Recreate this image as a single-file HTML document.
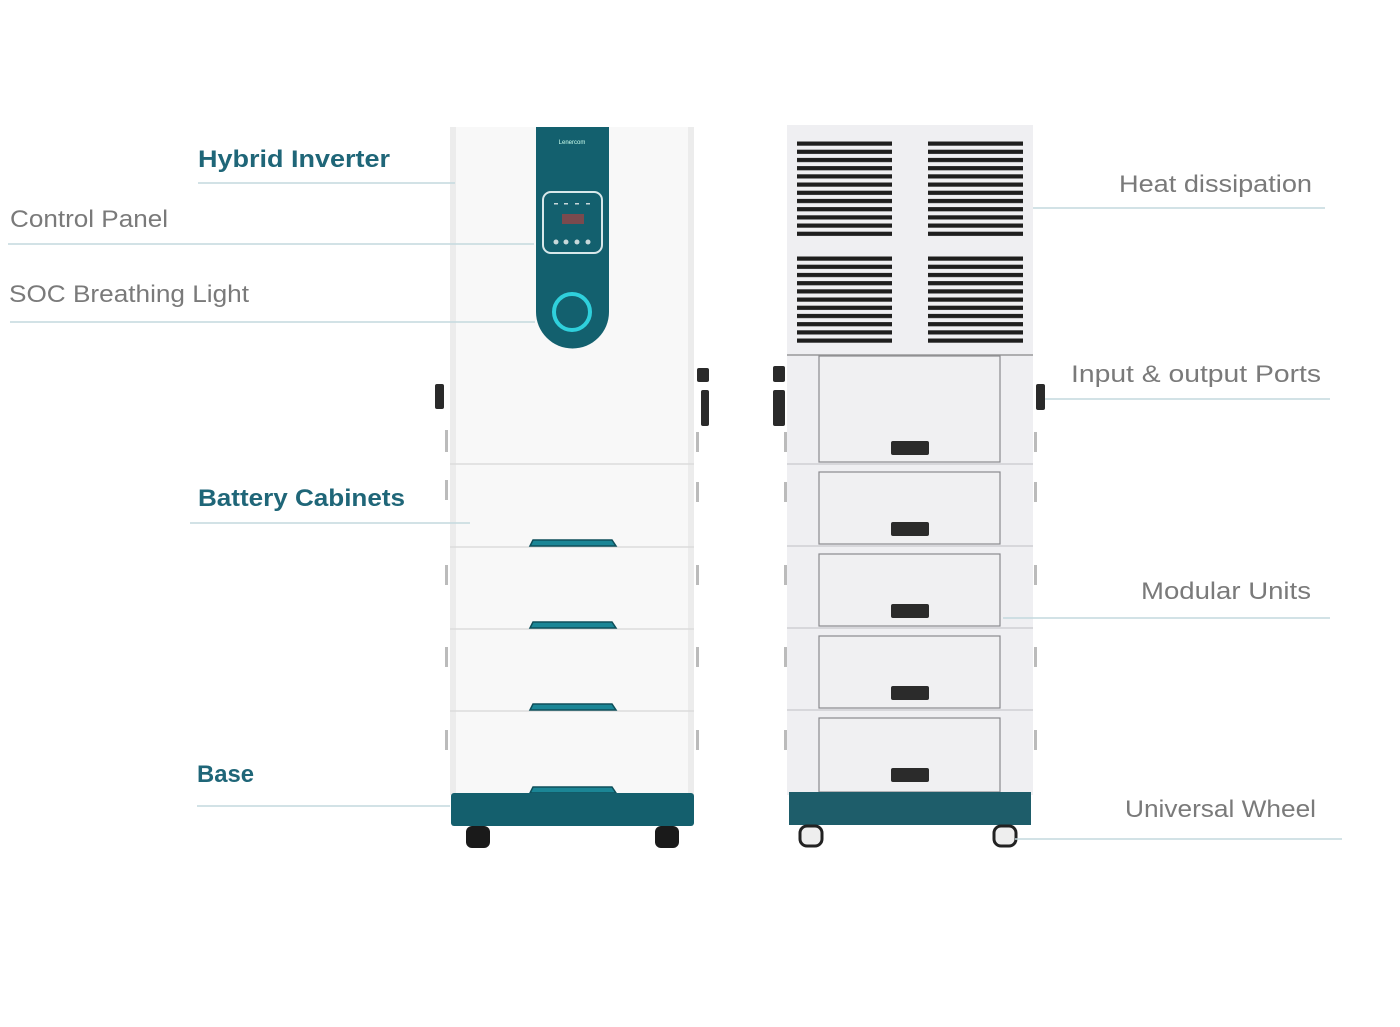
<!DOCTYPE html>
<html><head><meta charset="utf-8"><style>
html,body{margin:0;padding:0;background:#fff;}
svg{display:block}
.b{font-family:"Liberation Sans",sans-serif;font-weight:bold;fill:#1f6678;font-size:24px}
.n{font-family:"Liberation Sans",sans-serif;fill:#7a7a7a;font-size:24px}
.l{stroke:#c4d9de;stroke-width:1.5}
</style></head><body>
<svg width="1400" height="1027" viewBox="0 0 1400 1027" xmlns="http://www.w3.org/2000/svg">
<defs>
<pattern id="v1" x="0" y="141" width="10" height="8.2" patternUnits="userSpaceOnUse"><rect x="0" y="0.5" width="10" height="4.2" fill="#1e1e1e"/></pattern>
<pattern id="v2" x="0" y="256" width="10" height="8.2" patternUnits="userSpaceOnUse"><rect x="0" y="0.5" width="10" height="4.2" fill="#1e1e1e"/></pattern>
</defs>
<!-- LEFT UNIT -->
<rect x="450" y="127" width="244" height="668" fill="#f8f8f8"/>
<rect x="450" y="127" width="6" height="668" fill="#ececec"/>
<rect x="688" y="127" width="6" height="668" fill="#ececec"/>
<g stroke="#dcdcdc" stroke-width="1.5">
<line x1="450" y1="464" x2="694" y2="464"/><line x1="450" y1="547" x2="694" y2="547"/>
<line x1="450" y1="629" x2="694" y2="629"/><line x1="450" y1="711" x2="694" y2="711"/>
</g>
<path d="M536 127 H609 V312 A36.5 36.5 0 0 1 536 312 Z" fill="#13606e"/>
<text x="572" y="144" font-family="Liberation Sans" font-size="6" fill="#cfe" text-anchor="middle">Lenercom</text>
<rect x="543" y="192" width="59" height="61" rx="8" fill="none" stroke="#d8e8ea" stroke-width="2"/>
<rect x="562" y="214" width="22" height="10" fill="#7a4a4e"/>
<g fill="#c8d8da"><circle cx="556" cy="242" r="2.5"/><circle cx="566" cy="242" r="2.5"/><circle cx="577" cy="242" r="2.5"/><circle cx="588" cy="242" r="2.5"/>
<rect x="554" y="203" width="4" height="1.5"/><rect x="564" y="203" width="4" height="1.5"/><rect x="575" y="203" width="4" height="1.5"/><rect x="586" y="203" width="4" height="1.5"/></g>
<circle cx="572" cy="312" r="18" fill="none" stroke="#2fd0dc" stroke-width="4"/>
<g fill="#1b8696" stroke="#0f4f5a" stroke-width="1.5">
<path d="M530 546 L533 540 H612 L616 546 Z"/><path d="M530 628 L533 622 H612 L616 628 Z"/>
<path d="M530 710 L533 704 H612 L616 710 Z"/><path d="M530 793 L533 787 H612 L616 793 Z"/>
</g>
<rect x="451" y="793" width="243" height="33" rx="3" fill="#145f6d"/>
<rect x="466" y="826" width="24" height="22" rx="6" fill="#1a1a1a"/>
<rect x="655" y="826" width="24" height="22" rx="6" fill="#1a1a1a"/>
<g fill="#2a2a2a"><rect x="435" y="384" width="9" height="25" rx="2"/><rect x="697" y="368" width="12" height="14" rx="2"/><rect x="701" y="390" width="8" height="36" rx="2"/></g>
<g fill="#bbb"><rect x="445" y="430" width="3" height="22"/><rect x="445" y="480" width="3" height="20"/><rect x="445" y="565" width="3" height="20"/><rect x="445" y="647" width="3" height="20"/><rect x="445" y="730" width="3" height="20"/>
<rect x="696" y="432" width="3" height="20"/><rect x="696" y="482" width="3" height="20"/><rect x="696" y="565" width="3" height="20"/><rect x="696" y="647" width="3" height="20"/><rect x="696" y="730" width="3" height="20"/></g>
<!-- RIGHT UNIT -->
<rect x="787" y="125" width="246" height="670" fill="#efeff2"/>
<rect x="797" y="141" width="95" height="97" fill="url(#v1)"/>
<rect x="928" y="141" width="95" height="97" fill="url(#v1)"/>
<rect x="797" y="256" width="95" height="89" fill="url(#v2)"/>
<rect x="928" y="256" width="95" height="89" fill="url(#v2)"/>
<line x1="787" y1="355" x2="1033" y2="355" stroke="#999" stroke-width="1.5"/>
<g stroke="#cfcfd3" stroke-width="1.5"><line x1="787" y1="464" x2="1033" y2="464"/><line x1="787" y1="546" x2="1033" y2="546"/><line x1="787" y1="628" x2="1033" y2="628"/><line x1="787" y1="710" x2="1033" y2="710"/></g>
<g fill="#f0f0f2" stroke="#8a8a8e" stroke-width="1.2">
<rect x="819" y="356" width="181" height="106"/><rect x="819" y="472" width="181" height="72"/>
<rect x="819" y="554" width="181" height="72"/><rect x="819" y="636" width="181" height="72"/><rect x="819" y="718" width="181" height="74"/></g>
<g fill="#2b2b2b"><rect x="891" y="441" width="38" height="14" rx="2"/><rect x="891" y="522" width="38" height="14" rx="2"/><rect x="891" y="604" width="38" height="14" rx="2"/><rect x="891" y="686" width="38" height="14" rx="2"/><rect x="891" y="768" width="38" height="14" rx="2"/></g>
<rect x="789" y="792" width="242" height="33" fill="#1e5d6a"/>
<g fill="#eee" stroke="#222" stroke-width="3"><rect x="800" y="826" width="22" height="20" rx="7"/><rect x="994" y="826" width="22" height="20" rx="7"/></g>
<g fill="#2a2a2a"><rect x="773" y="366" width="12" height="16" rx="2"/><rect x="773" y="390" width="12" height="36" rx="2"/><rect x="1036" y="384" width="9" height="26" rx="2"/></g>
<g fill="#bbb"><rect x="784" y="432" width="3" height="20"/><rect x="784" y="482" width="3" height="20"/><rect x="784" y="565" width="3" height="20"/><rect x="784" y="647" width="3" height="20"/><rect x="784" y="730" width="3" height="20"/>
<rect x="1034" y="432" width="3" height="20"/><rect x="1034" y="482" width="3" height="20"/><rect x="1034" y="565" width="3" height="20"/><rect x="1034" y="647" width="3" height="20"/><rect x="1034" y="730" width="3" height="20"/></g>
<!-- LABEL LINES -->
<line class="l" x1="198" y1="183" x2="455" y2="183"/>
<line class="l" x1="8" y1="244" x2="534" y2="244"/>
<line class="l" x1="10" y1="322" x2="535" y2="322"/>
<line class="l" x1="190" y1="523" x2="470" y2="523"/>
<line class="l" x1="197" y1="806" x2="450" y2="806"/>
<line class="l" x1="1033" y1="208" x2="1325" y2="208"/>
<line class="l" x1="1045" y1="399" x2="1330" y2="399"/>
<line class="l" x1="1003" y1="618" x2="1330" y2="618"/>
<line class="l" x1="1015" y1="839" x2="1342" y2="839"/>
<!-- LABELS -->
<text class="b" x="198" y="167" textLength="192" lengthAdjust="spacingAndGlyphs">Hybrid Inverter</text>
<text class="n" x="10" y="227" textLength="158" lengthAdjust="spacingAndGlyphs">Control Panel</text>
<text class="n" x="9" y="302" textLength="240" lengthAdjust="spacingAndGlyphs">SOC Breathing Light</text>
<text class="b" x="198" y="506" textLength="207" lengthAdjust="spacingAndGlyphs">Battery Cabinets</text>
<text class="b" x="197" y="782" textLength="57" lengthAdjust="spacingAndGlyphs">Base</text>
<text class="n" x="1119" y="192" textLength="193" lengthAdjust="spacingAndGlyphs">Heat dissipation</text>
<text class="n" x="1071" y="382" textLength="250" lengthAdjust="spacingAndGlyphs">Input &amp; output Ports</text>
<text class="n" x="1141" y="599" textLength="170" lengthAdjust="spacingAndGlyphs">Modular Units</text>
<text class="n" x="1125" y="817" textLength="191" lengthAdjust="spacingAndGlyphs">Universal Wheel</text>
</svg>
</body></html>
